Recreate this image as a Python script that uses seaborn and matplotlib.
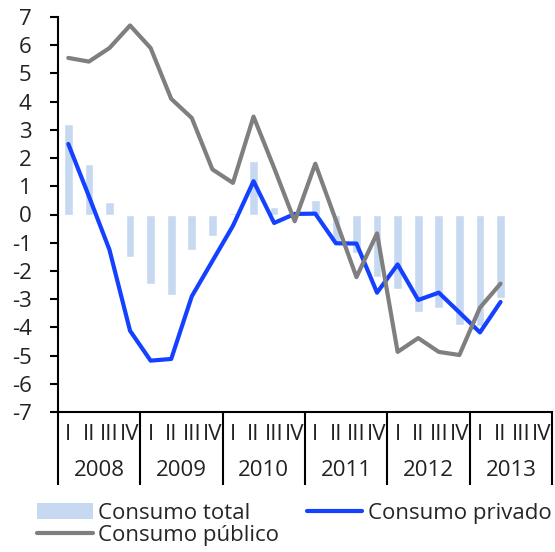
import matplotlib
matplotlib.use("Agg")
import matplotlib.pyplot as plt
import matplotlib.transforms as mtransforms
from matplotlib.patches import Patch
from matplotlib.lines import Line2D
import numpy as np
import pandas as pd
import seaborn as sns

# quarterly data, 2008 Q1 .. 2013 Q2
years = ["2008", "2009", "2010", "2011", "2012", "2013"]
quarters = ["I", "II", "III", "IV"]
consumo_total = [3.2, 1.8, 0.45, -1.5,
                 -2.45, -2.85, -1.25, -0.77,
                 0.05, 1.88, 0.25, -0.1,
                 0.5, -1.0, -1.35, -2.2,
                 -2.65, -3.45, -3.3, -3.92,
                 -3.95, -2.97]
consumo_privado = [2.5, 0.65, -1.25, -4.12,
                   -5.18, -5.12, -2.9, -1.65,
                   -0.4, 1.18, -0.3, 0.02,
                   0.03, -1.02, -1.03, -2.77,
                   -1.77, -3.03, -2.77, -3.47,
                   -4.18, -3.1]
consumo_publico = [5.55, 5.42, 5.9, 6.7,
                   5.9, 4.1, 3.42, 1.6,
                   1.12, 3.47, 1.65, -0.24,
                   1.8, -0.2, -2.22, -0.67,
                   -4.87, -4.38, -4.87, -4.98,
                   -3.3, -2.45]

df = pd.DataFrame({
    "t": np.arange(len(consumo_total)) + 0.5,
    "total": consumo_total,
    "privado": consumo_privado,
    "publico": consumo_publico,
})

sns.set_theme(style="white")
plt.rcParams["font.family"] = ["Open Sans", "DejaVu Sans"]
FS = 16
TXT = "#222222"

fig = plt.figure(figsize=(5.55, 5.52), dpi=100)
ax = fig.add_axes([58 / 555, 1 - 412 / 552, (552 - 58) / 555, (412 - 17) / 552])

c_total = "#c6d9f1"
c_priv = "#1440ff"
c_pub = "#7f7f7f"

sns.barplot(data=df, x="t", y="total", native_scale=True, width=0.42,
            color=c_total, saturation=1, ax=ax, zorder=1)
sns.lineplot(data=df, x="t", y="privado", color=c_priv, lw=3, ax=ax, zorder=3)
sns.lineplot(data=df, x="t", y="publico", color=c_pub, lw=3, ax=ax, zorder=4)

ax.set_xlim(0, 24)
ax.set_ylim(-7, 7)
ax.set_yticks(range(-7, 8))
ax.set_yticklabels([str(v) for v in range(-7, 8)], fontsize=FS)
ax.set_xticks([])
ax.set_xlabel("")
ax.set_ylabel("")
for s in ["top", "right"]:
    ax.spines[s].set_visible(False)
for s in ["left", "bottom"]:
    ax.spines[s].set_color("black")
    ax.spines[s].set_linewidth(1.5)
ax.tick_params(axis="y", left=True, length=6, width=1.5, color="black", pad=13, labelcolor=TXT)

trans = mtransforms.blended_transform_factory(ax.transData, ax.transAxes)
for k in range(len(years) + 1):
    ax.plot([4 * k, 4 * k], [0, -0.185], transform=trans, color="black",
            lw=1.5, clip_on=False, solid_capstyle="butt")
for k, yr in enumerate(years):
    ax.text(4 * k + 2, -0.148, yr, transform=trans, ha="center", va="center",
            fontsize=FS, color=TXT)
    for q, ql in enumerate(quarters):
        ax.text(4 * k + q + 0.5, -0.058, ql, transform=trans, ha="center", va="center",
                fontsize=FS, color=TXT)

handles = [Patch(facecolor=c_total, edgecolor="none"),
           Line2D([], [], color=c_pub, lw=3),
           Line2D([], [], color=c_priv, lw=3)]
labels = ["Consumo total", "Consumo público", "Consumo privado"]
fig.legend(handles, labels, ncol=2, frameon=False, fontsize=FS,
           loc="upper left", bbox_to_anchor=(37 / 555, 1 - 503 / 552),
           handlelength=2.5, handletextpad=0.25, columnspacing=1.25,
           labelspacing=0.05, borderpad=0, borderaxespad=0)

fig.savefig("out.png", dpi=100)
